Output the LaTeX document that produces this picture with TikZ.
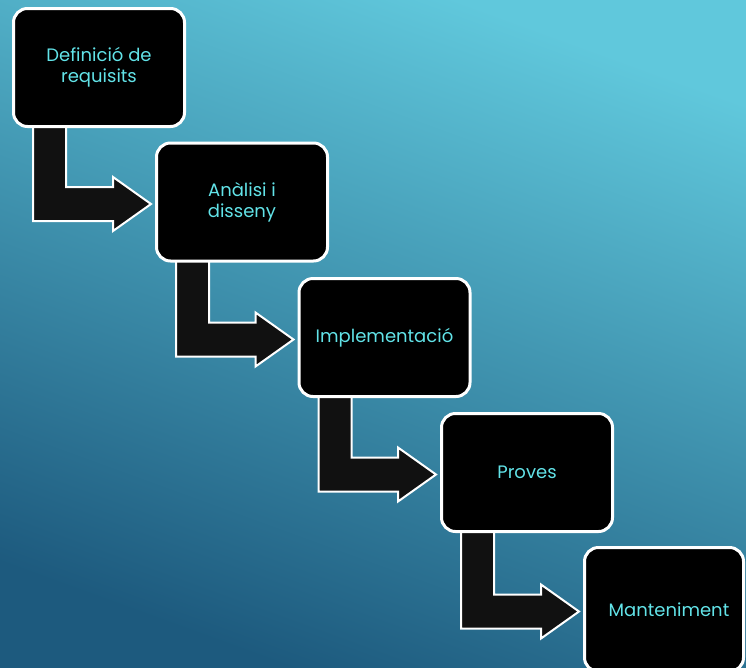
\documentclass[tikz,border=0pt]{standalone}
\usepackage{fontspec}
\setmainfont{Poppins}
\usetikzlibrary{calc}

\definecolor{fonsalt}{HTML}{60C8DC}
\definecolor{fonsmig}{HTML}{4AB0CC}
\definecolor{fonsbaix}{HTML}{1D5A7E}
\definecolor{textcian}{HTML}{62E3E8}
\definecolor{negrefletxa}{HTML}{111111}

\pgfdeclarelayer{fons}
\pgfdeclarelayer{fletxes}
\pgfsetlayers{fons,fletxes,main}

\tikzset{
	fase/.style={draw=white, fill=black, line width=3pt, rounded corners=14pt,
		minimum width=171pt, minimum height=118pt, align=center,
		text=textcian, font=\fontsize{18}{21}\selectfont},
	fletxa/.style={draw=white, fill=negrefletxa, line width=2pt}
}

% fletxa doblegada de la base d'una fase cap a l'esquerra de la seguent
\newcommand{\fletxafase}[2]{%
	\coordinate (s) at ($(#1.south west)+(37.5,0)$);
	\coordinate (t) at ($(#2.west)+(-4,2)$);
	\draw[fletxa] ($(s)+(-16.5,-6)$) -- ($(s |- t)+(-16.5,17)$) -- ($(t)+(-38,17)$)
		-- ($(t)+(-38,27)$) -- (t) -- ($(t)+(-38,-27)$) -- ($(t)+(-38,-17)$)
		-- ($(s |- t)+(16.5,-17)$) -- ($(s)+(16.5,-6)$) -- cycle;
}

\begin{document}
\begin{tikzpicture}[x=1pt, y=-1pt]
	\useasboundingbox (0,0) rectangle (746,667);
	\clip (0,0) rectangle (746,667);
	\begin{pgfonlayer}{fons}
		\shade[top color=fonsalt, middle color=fonsmig, bottom color=fonsbaix, shading angle=-20] (0,0) rectangle (746,667);
	\end{pgfonlayer}

	\node[fase] (f1) at (99, 67.5) {Definició de\\requisits};
	\node[fase] (f2) at (242, 202) {Anàlisi i\\disseny};
	\node[fase] (f3) at (384.5, 337.5) {Implementació};
	\node[fase] (f4) at (527, 472.5) {Proves};
	\node[fase, minimum width=159pt, minimum height=124pt] (f5) at (664, 609.5) {\hspace*{10pt}Manteniment};

	\begin{pgfonlayer}{fletxes}
		\fletxafase{f1}{f2}
		\fletxafase{f2}{f3}
		\fletxafase{f3}{f4}
		\fletxafase{f4}{f5}
	\end{pgfonlayer}
\end{tikzpicture}
\end{document}
